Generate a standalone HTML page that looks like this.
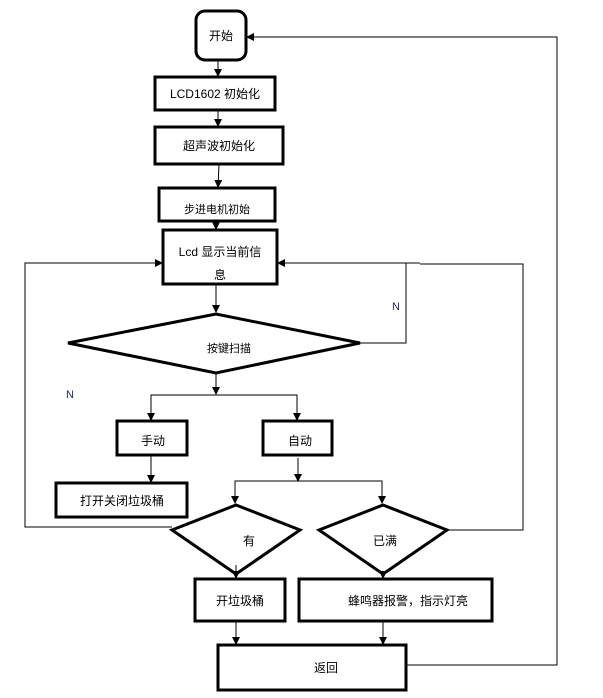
<!DOCTYPE html>
<html><head><meta charset="utf-8"><style>
body{margin:0;background:#fff;}
svg text{font-family:"Liberation Sans","Noto Sans CJK SC",sans-serif;font-size:12px;fill:#000;text-anchor:middle;}
</style></head><body>
<svg width="603" height="693" viewBox="0 0 603 693" xmlns="http://www.w3.org/2000/svg">
<defs><marker id="a" markerWidth="8" markerHeight="8" refX="7" refY="4" orient="auto" markerUnits="userSpaceOnUse"><path d="M0,0 L8,4 L0,8 z" fill="#000"/></marker></defs>
<g fill="none" stroke="#000" stroke-width="3">
<rect x="196" y="11" width="50" height="49" rx="9"/>
<rect x="155" y="77" width="120" height="33"/>
<rect x="155" y="127" width="128" height="37"/>
<rect x="159" y="188" width="116" height="33"/>
<rect x="163" y="230" width="114" height="54"/>
<polygon points="68,343 216,314 360,343 216,373"/>
<rect x="117" y="421" width="70" height="34"/>
<rect x="263" y="421" width="69" height="34"/>
<rect x="56" y="483" width="131" height="34"/>
<polygon points="172,530 236,505 300,530 236,574"/>
<polygon points="319,530 383,505 447,530 383,574"/>
<rect x="195" y="579" width="90" height="42"/>
<rect x="299" y="579" width="193" height="42"/>
<rect x="218" y="645" width="188" height="45"/>
</g>
<g fill="none" stroke="#000" stroke-width="1">
<line x1="218" y1="60" x2="218" y2="76" marker-end="url(#a)"/>
<line x1="218" y1="110" x2="218" y2="126" marker-end="url(#a)"/>
<line x1="219" y1="164" x2="218" y2="187" marker-end="url(#a)"/>
<line x1="216" y1="221" x2="216" y2="229" marker-end="url(#a)"/>
<line x1="216" y1="284" x2="216" y2="312" marker-end="url(#a)"/>
<polyline points="360,343 406,343 406,263 278,263" marker-end="url(#a)"/>
<line x1="406" y1="263" x2="420" y2="263"/>
<polyline points="444,530 523,530 523,264 420,264"/>
<polyline points="172,527 25,527 25,263 162,263" marker-end="url(#a)"/>
<line x1="216" y1="373" x2="216" y2="394" marker-end="url(#a)"/>
<polyline points="151,420 151,395 297,395 297,420"/>
<line x1="151" y1="405" x2="151" y2="420" marker-end="url(#a)"/>
<line x1="297" y1="405" x2="297" y2="420" marker-end="url(#a)"/>
<line x1="151" y1="455" x2="151" y2="482" marker-end="url(#a)"/>
<line x1="298" y1="458" x2="298" y2="481" marker-end="url(#a)"/>
<polyline points="235,503 235,481 382,481 382,503"/>
<line x1="235" y1="490" x2="235" y2="503" marker-end="url(#a)"/>
<line x1="382" y1="490" x2="382" y2="503" marker-end="url(#a)"/>
<line x1="236" y1="565" x2="236" y2="578" marker-end="url(#a)"/>
<line x1="383" y1="574" x2="383" y2="578" marker-end="url(#a)"/>
<line x1="236" y1="621" x2="236" y2="644" marker-end="url(#a)"/>
<line x1="383" y1="621" x2="383" y2="644" marker-end="url(#a)"/>
<polyline points="406,665 557,665 557,37 247,37" marker-end="url(#a)"/>
</g>
<text x="221" y="40">开始</text>
<text x="215" y="98">LCD1602 初始化</text>
<text x="219" y="150">超声波初始化</text>
<text x="217" y="213" style="font-size:11px">步进电机初始</text>
<text x="220" y="256">Lcd 显示当前信</text>
<text x="220" y="279">息</text>
<text x="229" y="352" style="font-size:11px">按键扫描</text>
<text x="396" y="310" style="font-size:11px;fill:#1a2a6a">N</text>
<text x="70" y="398" style="font-size:11px;fill:#1a2a6a">N</text>
<text x="153" y="445">手动</text>
<text x="300" y="445">自动</text>
<text x="122" y="505">打开关闭垃圾桶</text>
<text x="249" y="545">有</text>
<text x="385" y="545">已满</text>
<text x="240" y="605">开垃圾桶</text>
<text x="408" y="605">蜂鸣器报警，指示灯亮</text>
<text x="326" y="672">返回</text>
</svg>
</body></html>
